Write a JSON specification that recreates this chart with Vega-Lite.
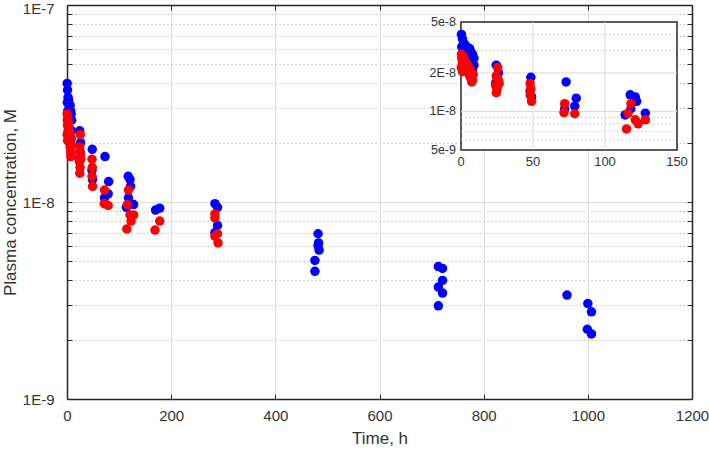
{
  "$schema": "https://vega.github.io/schema/vega-lite/v6.json",
  "width": 625,
  "height": 394,
  "autosize": "none",
  "padding": {"left": 67, "top": 5, "right": 17, "bottom": 52},
  "background": "white",
  "config": {
    "view": {"stroke": null},
    "font": "Liberation Sans",
    "axis": {"labelFont": "Liberation Sans", "titleFont": "Liberation Sans", "labelColor": "#333333", "titleColor": "#333333", "titleFontWeight": "normal"}
  },
  "datasets": {
    "pts": [
      {"s":"A","t":0.3,"c":4.0e-8},{"s":"A","t":1,"c":3.7e-8},{"s":"A","t":2,"c":3.4e-8},{"s":"A","t":0.5,"c":3.2e-8},{"s":"A","t":3,"c":3.3e-8},{"s":"A","t":4,"c":3.1e-8},{"s":"A","t":6,"c":3.1e-8},{"s":"A","t":7,"c":2.9e-8},{"s":"A","t":8,"c":2.8e-8},{"s":"A","t":9,"c":2.6e-8},{"s":"A","t":9,"c":2.3e-8},{"s":"A","t":8,"c":2.1e-8},{"s":"A","t":1.5,"c":2.9e-8},{"s":"A","t":5,"c":2.7e-8},
      {"s":"A","t":24.5,"c":2.3e-8},{"s":"A","t":26,"c":2.0e-8},{"s":"A","t":25,"c":1.8e-8},{"s":"A","t":24,"c":1.65e-8},
      {"s":"A","t":48.5,"c":1.85e-8},{"s":"A","t":48,"c":1.45e-8},{"s":"A","t":49,"c":1.3e-8},
      {"s":"A","t":73,"c":1.7e-8},{"s":"A","t":72,"c":1.05e-8},{"s":"A","t":80,"c":1.27e-8},{"s":"A","t":79,"c":1.1e-8},
      {"s":"A","t":117.5,"c":1.35e-8},{"s":"A","t":121,"c":1.3e-8},{"s":"A","t":122,"c":1.2e-8},{"s":"A","t":118,"c":1.05e-8},{"s":"A","t":114,"c":9.4e-9},{"s":"A","t":128,"c":9.7e-9},
      {"s":"A","t":170,"c":9.1e-9},{"s":"A","t":178,"c":9.3e-9},
      {"s":"A","t":284,"c":9.8e-9},{"s":"A","t":289,"c":9.4e-9},{"s":"A","t":289,"c":7.6e-9},{"s":"A","t":284,"c":7.0e-9},
      {"s":"A","t":482,"c":6.9e-9},{"s":"A","t":483,"c":6.2e-9},{"s":"A","t":482,"c":6.0e-9},{"s":"A","t":484,"c":5.7e-9},{"s":"A","t":476,"c":5.05e-9},{"s":"A","t":476,"c":4.45e-9},
      {"s":"A","t":713,"c":4.7e-9},{"s":"A","t":721,"c":4.6e-9},{"s":"A","t":721,"c":4.0e-9},{"s":"A","t":713,"c":3.7e-9},{"s":"A","t":721,"c":3.45e-9},{"s":"A","t":713,"c":2.97e-9},
      {"s":"A","t":960,"c":3.37e-9},{"s":"A","t":1000,"c":3.05e-9},{"s":"A","t":1007,"c":2.77e-9},{"s":"A","t":999,"c":2.26e-9},{"s":"A","t":1007,"c":2.14e-9},
      {"s":"B","t":0.3,"c":2.8e-8},{"s":"B","t":0.5,"c":2.6e-8},{"s":"B","t":1,"c":2.45e-8},{"s":"B","t":1.5,"c":2.7e-8},{"s":"B","t":2,"c":2.3e-8},{"s":"B","t":2.5,"c":2.5e-8},{"s":"B","t":3,"c":2.2e-8},{"s":"B","t":3.5,"c":2.4e-8},{"s":"B","t":4,"c":2.1e-8},{"s":"B","t":4.5,"c":2.3e-8},{"s":"B","t":5,"c":2.0e-8},{"s":"B","t":5.5,"c":2.2e-8},{"s":"B","t":6,"c":1.9e-8},{"s":"B","t":6.5,"c":2.1e-8},{"s":"B","t":7,"c":1.8e-8},{"s":"B","t":7.5,"c":1.7e-8},{"s":"B","t":8,"c":1.75e-8},{"s":"B","t":8.5,"c":1.95e-8},{"s":"B","t":0.2,"c":2.2e-8},{"s":"B","t":1,"c":2.05e-8},
      {"s":"B","t":25.5,"c":2.2e-8},{"s":"B","t":24.5,"c":1.9e-8},{"s":"B","t":26,"c":1.75e-8},{"s":"B","t":24,"c":1.6e-8},{"s":"B","t":25,"c":1.5e-8},{"s":"B","t":24.5,"c":1.4e-8},{"s":"B","t":26.5,"c":1.65e-8},
      {"s":"B","t":48,"c":1.65e-8},{"s":"B","t":48.5,"c":1.5e-8},{"s":"B","t":48,"c":1.35e-8},{"s":"B","t":49,"c":1.2e-8},
      {"s":"B","t":72,"c":1.15e-8},{"s":"B","t":71.5,"c":0.98e-8},{"s":"B","t":79,"c":0.96e-8},
      {"s":"B","t":118,"c":1.15e-8},{"s":"B","t":116,"c":9.7e-9},{"s":"B","t":121,"c":8.6e-9},{"s":"B","t":128,"c":8.6e-9},{"s":"B","t":115,"c":7.3e-9},{"s":"B","t":123,"c":8.0e-9},
      {"s":"B","t":178,"c":8.0e-9},{"s":"B","t":169,"c":7.2e-9},
      {"s":"B","t":284,"c":8.7e-9},{"s":"B","t":284,"c":8.3e-9},{"s":"B","t":289,"c":6.9e-9},{"s":"B","t":284,"c":6.7e-9},{"s":"B","t":290,"c":6.2e-9}
    ],
    "frame": [{"t0": 0, "t1": 150, "c0": 5e-9, "c1": 5e-8}],
    "vgrid": [{"t": 50}, {"t": 100}],
    "hmajor": [{"c": 1e-8}, {"c": 2e-8}],
    "hminor": [{"c": 6e-9}, {"c": 7e-9}, {"c": 8e-9}, {"c": 9e-9}, {"c": 3e-8}, {"c": 4e-8}],
    "xlabs": [{"t": 0, "lab": "0"}, {"t": 50, "lab": "50"}, {"t": 100, "lab": "100"}, {"t": 150, "lab": "150"}],
    "ylabs": [{"c": 5e-9, "lab": "5e-9"}, {"c": 1e-8, "lab": "1E-8"}, {"c": 2e-8, "lab": "2E-8"}, {"c": 5e-8, "lab": "5e-8"}]
  },
  "resolve": {"scale": {"x": "independent", "y": "independent"}},
  "layer": [
    {
      "data": {"name": "pts"},
      "resolve": {"axis": {"x": "independent", "y": "independent"}},
      "layer": [
        {
          "mark": {"type": "circle", "size": 90, "opacity": 1},
          "encoding": {
            "x": {"field": "t", "type": "quantitative",
              "scale": {"domain": [0, 1200], "nice": false, "zero": false},
              "axis": {"orient": "bottom", "values": [0, 200, 400, 600, 800, 1000, 1200], "format": "d", "title": "Time, h",
                "grid": true, "gridColor": "#dcdcdc", "gridWidth": 1,
                "tickSize": -5, "tickColor": "#262626", "domainColor": "#262626", "domainWidth": 1.5,
                "labelPadding": 14, "labelFlush": false, "labelOverlap": false, "labelFontSize": 15,
                "titleFontSize": 17, "titlePadding": 7}},
            "y": {"field": "c", "type": "quantitative",
              "scale": {"type": "log", "domain": [1e-9, 1e-7], "nice": false},
              "axis": {"orient": "left",
                "values": [1e-9, 2e-9, 3e-9, 4e-9, 5e-9, 6e-9, 7e-9, 8e-9, 9e-9, 1e-8, 2e-8, 3e-8, 4e-8, 5e-8, 6e-8, 7e-8, 8e-8, 9e-8, 1e-7],
                "labelExpr": "abs(log(datum.value)/LN10 - round(log(datum.value)/LN10)) < 0.01 ? '1E' + round(log(datum.value)/LN10) : ''",
                "labelOffset": {"condition": {"test": "datum.value > 5e-8", "value": 3}, "value": 0},
                "title": "Plasma concentration, M",
                "grid": true,
                "gridColor": {"condition": {"test": "abs(log(datum.value)/LN10 - round(log(datum.value)/LN10)) < 0.01", "value": "#dcdcdc"}, "value": "#c4c4c4"},
                "gridDash": {"condition": {"test": "abs(log(datum.value)/LN10 - round(log(datum.value)/LN10)) < 0.01", "value": []}, "value": [1.5, 2.5]},
                "tickSize": -5, "tickColor": "#262626", "domainColor": "#262626", "domainWidth": 1.5,
                "labelPadding": 18, "labelOverlap": false, "labelFontSize": 15,
                "titleFontSize": 17, "titlePadding": 3}},
            "color": {"field": "s", "type": "nominal", "scale": {"domain": ["A", "B"], "range": ["#0000ff", "#ff0000"]}, "legend": null}
          }
        },
        {
          "mark": {"type": "point", "opacity": 0},
          "encoding": {
            "x": {"field": "t", "type": "quantitative",
              "axis": {"orient": "top", "values": [0, 200, 400, 600, 800, 1000, 1200], "title": null, "labels": false, "grid": false,
                "tickSize": -5, "tickColor": "#262626", "domainColor": "#262626", "domainWidth": 1.5}},
            "y": {"field": "c", "type": "quantitative",
              "axis": {"orient": "right",
                "values": [1e-9, 2e-9, 3e-9, 4e-9, 5e-9, 6e-9, 7e-9, 8e-9, 9e-9, 1e-8, 2e-8, 3e-8, 4e-8, 5e-8, 6e-8, 7e-8, 8e-8, 9e-8, 1e-7],
                "title": null, "labels": false, "grid": false,
                "tickSize": -5, "tickColor": "#262626", "domainColor": "#262626", "domainWidth": 1.5}}
          }
        }
      ]
    },
    {
      "layer": [
        {
          "data": {"name": "frame"},
          "mark": {"type": "rect", "fill": "white", "stroke": "#262626", "strokeWidth": 1.5},
          "encoding": {
            "x": {"field": "t0", "type": "quantitative", "scale": {"domain": [0, 150], "range": [394, 610], "nice": false, "zero": false}, "axis": null},
            "x2": {"field": "t1"},
            "y": {"field": "c0", "type": "quantitative", "scale": {"type": "log", "domain": [5e-9, 5e-8], "range": [145, 17], "nice": false}, "axis": null},
            "y2": {"field": "c1"}
          }
        },
        {
          "data": {"name": "vgrid"},
          "mark": {"type": "rule", "color": "#dcdcdc", "strokeWidth": 1},
          "encoding": {
            "x": {"field": "t", "type": "quantitative", "scale": {"domain": [0, 150], "range": [394, 610], "nice": false, "zero": false}, "axis": null},
            "y": {"datum": 5e-9, "scale": {"type": "log", "domain": [5e-9, 5e-8], "range": [145, 17], "nice": false}, "axis": null},
            "y2": {"datum": 5e-8}
          }
        },
        {
          "data": {"name": "hmajor"},
          "mark": {"type": "rule", "color": "#dcdcdc", "strokeWidth": 1},
          "encoding": {
            "y": {"field": "c", "type": "quantitative", "scale": {"type": "log", "domain": [5e-9, 5e-8], "range": [145, 17], "nice": false}, "axis": null},
            "x": {"datum": 0, "scale": {"domain": [0, 150], "range": [394, 610], "nice": false, "zero": false}, "axis": null},
            "x2": {"datum": 150}
          }
        },
        {
          "data": {"name": "hminor"},
          "mark": {"type": "rule", "color": "#c4c4c4", "strokeWidth": 1, "strokeDash": [1.5, 2.5]},
          "encoding": {
            "y": {"field": "c", "type": "quantitative", "scale": {"type": "log", "domain": [5e-9, 5e-8], "range": [145, 17], "nice": false}, "axis": null},
            "x": {"datum": 0, "scale": {"domain": [0, 150], "range": [394, 610], "nice": false, "zero": false}, "axis": null},
            "x2": {"datum": 150}
          }
        },
        {
          "data": {"name": "xlabs"},
          "mark": {"type": "text", "baseline": "top", "align": "center", "dy": 6, "fontSize": 13, "font": "Liberation Sans", "color": "#333333"},
          "encoding": {
            "x": {"field": "t", "type": "quantitative", "scale": {"domain": [0, 150], "range": [394, 610], "nice": false, "zero": false}, "axis": null},
            "y": {"datum": 5e-9, "scale": {"type": "log", "domain": [5e-9, 5e-8], "range": [145, 17], "nice": false}, "axis": null},
            "text": {"field": "lab"}
          }
        },
        {
          "data": {"name": "ylabs"},
          "mark": {"type": "text", "baseline": "middle", "align": "right", "dx": -5, "fontSize": 12.5, "font": "Liberation Sans", "color": "#333333"},
          "encoding": {
            "y": {"field": "c", "type": "quantitative", "scale": {"type": "log", "domain": [5e-9, 5e-8], "range": [145, 17], "nice": false}, "axis": null},
            "x": {"datum": 0, "scale": {"domain": [0, 150], "range": [394, 610], "nice": false, "zero": false}, "axis": null},
            "text": {"field": "lab"}
          }
        },
        {
          "data": {"name": "pts"},
          "transform": [{"filter": "datum.t <= 150"}],
          "mark": {"type": "circle", "size": 90, "opacity": 1},
          "encoding": {
            "x": {"field": "t", "type": "quantitative",
              "scale": {"domain": [0, 150], "range": [394, 610], "nice": false, "zero": false}, "axis": null},
            "y": {"field": "c", "type": "quantitative",
              "scale": {"type": "log", "domain": [5e-9, 5e-8], "range": [145, 17], "nice": false}, "axis": null},
            "color": {"field": "s", "type": "nominal", "scale": {"domain": ["A", "B"], "range": ["#0000ff", "#ff0000"]}, "legend": null}
          }
        }
      ]
    }
  ]
}
